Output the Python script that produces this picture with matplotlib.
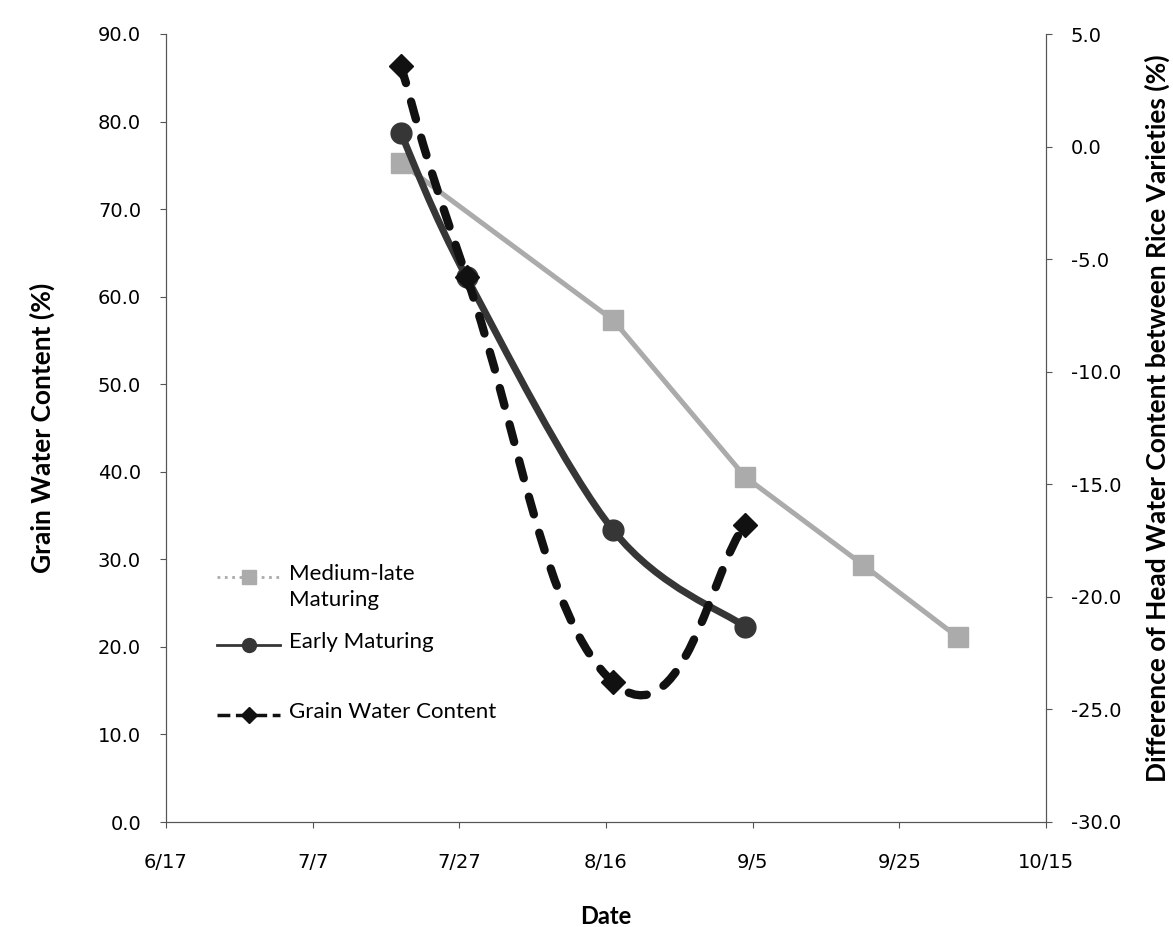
import numpy as np
import pandas as pd
import matplotlib
matplotlib.use("Agg")
import matplotlib.pyplot as plt
import matplotlib.dates as mdates
from matplotlib.path import Path
from matplotlib.patches import PathPatch
from matplotlib.ticker import FormatStrFormatter

# data (year is arbitrary, only month/day shown)
medium_dates = ["2010-07-19", "2010-08-17", "2010-09-04", "2010-09-20", "2010-10-03"]
medium_vals = [75.3, 57.3, 39.4, 29.4, 21.1]

early_dates = ["2010-07-19", "2010-07-28", "2010-08-17", "2010-09-04"]
early_vals = [78.7, 62.2, 33.3, 22.3]

diff_dates = ["2010-07-19", "2010-07-28", "2010-08-17", "2010-09-04"]
diff_vals = [3.6, -5.8, -23.8, -16.8]

tick_dates = ["2010-06-17", "2010-07-07", "2010-07-27", "2010-08-16",
              "2010-09-05", "2010-09-25", "2010-10-15"]

legend_labels = ["Medium-late\nMaturing", "Early Maturing", "Grain Water Content"]


def smooth_path(x, y, k=1 / 6):
    # smoothed line like the spreadsheet's: cardinal spline as cubic beziers
    x = np.asarray(x, float)
    y = np.asarray(y, float)
    px = np.concatenate([[x[0]], x, [x[-1]]])
    py = np.concatenate([[y[0]], y, [y[-1]]])
    verts = [(x[0], y[0])]
    codes = [Path.MOVETO]
    for i in range(1, len(px) - 2):
        c1 = (px[i] + (px[i + 1] - px[i - 1]) * k, py[i] + (py[i + 1] - py[i - 1]) * k)
        c2 = (px[i + 1] - (px[i + 2] - px[i]) * k, py[i + 1] - (py[i + 2] - py[i]) * k)
        verts += [c1, c2, (px[i + 1], py[i + 1])]
        codes += [Path.CURVE4] * 3
    return Path(verts, codes)


med_x = mdates.date2num(pd.to_datetime(medium_dates))
early_x = mdates.date2num(pd.to_datetime(early_dates))
diff_x = mdates.date2num(pd.to_datetime(diff_dates))
ticks_x = mdates.date2num(pd.to_datetime(tick_dates))

c_med = "#ababab"
c_early = "#363636"
c_diff = "#111111"
dash = (0, (2.2, 2.3))

fig = plt.figure(figsize=(11.73, 9.27), dpi=100)
ax = fig.add_axes([166 / 1173, 1 - 822 / 927, 880 / 1173, 788 / 927])
ax2 = ax.twinx()

# medium-late: straight segments
ax.plot(med_x, medium_vals, color=c_med, lw=3.6, marker="s", ms=14,
        mfc=c_med, mec=c_med, zorder=3)

# early maturing: smoothed
ax.add_patch(PathPatch(smooth_path(early_x, early_vals), fill=False,
                       ec=c_early, lw=5, zorder=4))
ax.plot(early_x, early_vals, ls="none", marker="o", ms=15, color=c_early, zorder=5)

# difference on right axis: smoothed, dashed
ax2.add_patch(PathPatch(smooth_path(diff_x, diff_vals, k=0.25), fill=False,
                        ec=c_diff, lw=6, ls=dash, capstyle="round", zorder=4))
ax2.plot(diff_x, diff_vals, ls="none", marker="D", ms=12, color=c_diff, zorder=5)

ax.set_xlim(ticks_x[0], ticks_x[-1])
ax.set_xticks(ticks_x)
ax.xaxis.set_major_formatter(mdates.DateFormatter("%-m/%-d"))
ax.set_ylim(0, 90)
ax.set_yticks(np.arange(0, 91, 10))
ax.yaxis.set_major_formatter(FormatStrFormatter("%.1f"))
ax2.set_ylim(-30, 5)
ax2.set_yticks(np.arange(-30, 6, 5))
ax2.yaxis.set_major_formatter(FormatStrFormatter("%.1f"))

for a in (ax, ax2):
    a.spines["top"].set_visible(False)
    for s in a.spines.values():
        s.set_linewidth(0.8)
        s.set_color("#555555")
    a.tick_params(axis="y", labelsize=14, length=4, width=0.8, color="#555555", pad=14)
ax.tick_params(axis="x", labelsize=14, length=4, width=0.8, color="#555555", pad=18)

ax.set_xlabel("Date", fontsize=17, fontweight="bold", family="Lato")
ax.xaxis.set_label_coords(0.5, -0.105)
ax.set_ylabel("Grain Water Content (%)", fontsize=19, fontweight="bold", family="Lato")
ax.yaxis.set_label_coords(-0.126, 0.5)
ax2.set_ylabel("Difference of Head Water Content between Rice Varieties (%)",
               fontsize=19, fontweight="bold", family="Lato", rotation=90)
ax2.yaxis.set_label_coords(1.112, 0.512)

# legend drawn by hand so that handles line up with the first text line
hx = [0.058, 0.094, 0.130]
ty = [0.311, 0.225, 0.136]
styles = [
    dict(color=c_med, lw=2, ls=":", marker="s", ms=10),
    dict(color=c_early, lw=2, marker="o", ms=10),
    dict(color=c_diff, lw=2.5, ls="--", marker="D", ms=8),
]
for y, st, lab in zip(ty, styles, legend_labels):
    ax.plot([hx[0], hx[2]], [y, y], transform=ax.transAxes, clip_on=False,
            color=st["color"], lw=st["lw"], ls=st.get("ls", "-"), zorder=6)
    ax.plot([hx[1]], [y], transform=ax.transAxes, clip_on=False, ls="none",
            color=st["color"], marker=st["marker"], ms=st["ms"], zorder=7)
    ax.text(0.140, y + 0.0165, lab, transform=ax.transAxes, va="top", ha="left",
            fontsize=16, family="Lato", linespacing=1.35)

fig.savefig("out.png", dpi=100)
